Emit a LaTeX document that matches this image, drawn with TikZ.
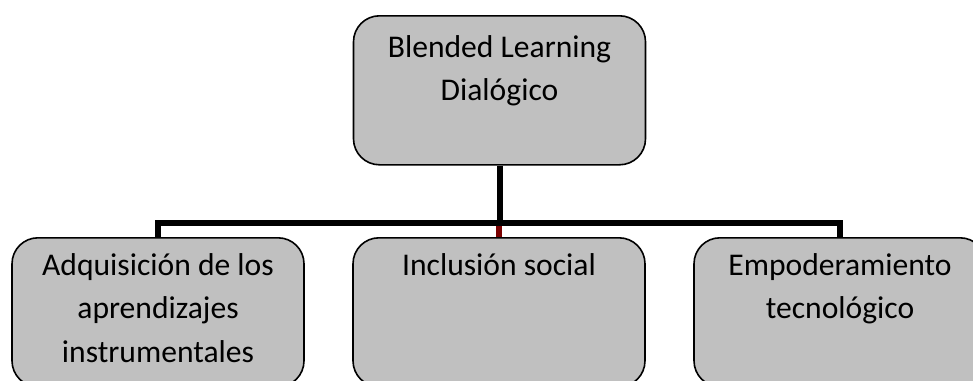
\documentclass[tikz,border=0pt]{standalone}
\usepackage{fontspec}
\setmainfont{Carlito}
\usetikzlibrary{positioning}

\definecolor{boxgray}{HTML}{C0C0C0}
\definecolor{linkred}{HTML}{7A0000}

\tikzset{
  concept/.style={draw=black, line width=0.8pt, fill=boxgray, rounded corners=13pt,
    minimum width=146pt, minimum height=74.5pt, anchor=north, inner sep=0pt},
  caption/.style={anchor=north, align=center, inner sep=0pt,
    font=\fontsize{15.8}{21.8}\selectfont},
  link/.style={line width=3pt, line join=miter},
}

\begin{document}
\begin{tikzpicture}[x=0.5pt,y=-0.5pt]
\useasboundingbox (0,0) rectangle (973,380);
\clip (0,0) rectangle (973,380);
% boxes
\node[concept] (root) at (499.5,15) {};
\node[concept] (adq) at (158,237) {};
\node[concept] (inc) at (499,237) {};
\node[concept] (emp) at (840,237) {};
% texts
\node[caption, below=10pt of root.north] (rootText) {Blended Learning\\Dialógico};
\node[caption, below=8pt of adq.north] (adqText) {Adquisición de los\\aprendizajes\\instrumentales};
\node[caption, below=8pt of inc.north] (incText) {Inclusión social};
\node[caption, below=8pt of emp.north] (empText) {Empoderamiento\\tecnológico};
% connectors
\coordinate (bus) at (499,223);
\draw[link] (root.south) -- (root.south |- bus);
\draw[link] (adq.north) -- (adq.north |- bus) -- (emp.north |- bus) -- (emp.north);
\draw[link, draw=linkred] (bus) ++(0,2.5) -- (inc.north);
\end{tikzpicture}
\end{document}
